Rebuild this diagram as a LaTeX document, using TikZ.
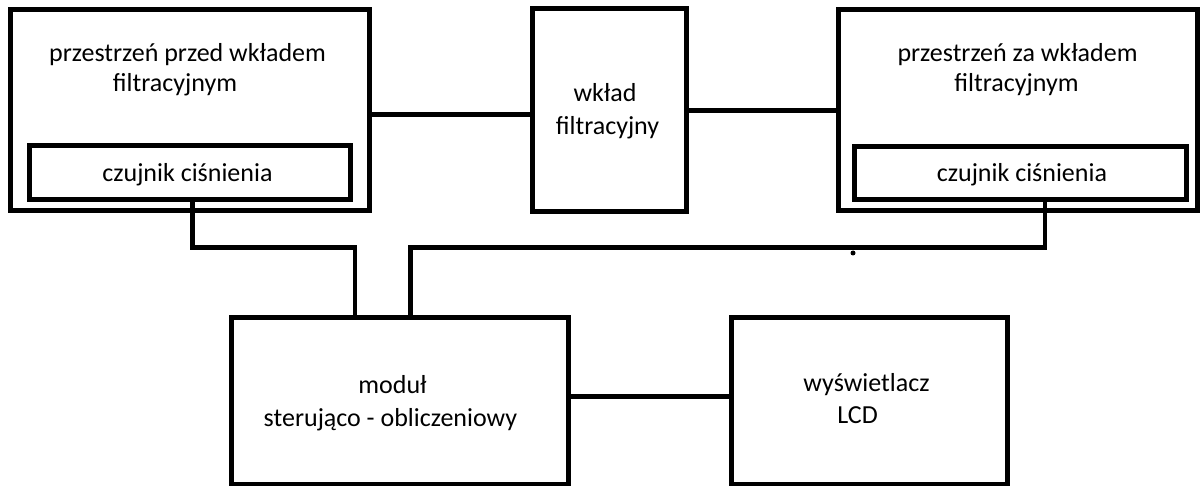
\documentclass[tikz,border=0pt]{standalone}
\usepackage{fontspec}
\setmainfont{Carlito}
\begin{document}
\begin{tikzpicture}[x=1pt,y=-1pt,
  blk/.style={draw=black,line width=5pt,inner sep=0pt,outer sep=0pt,rectangle},
  wire/.style={draw=black,line width=4.8pt},
  lbl/.style={anchor=base,inner sep=0pt,font=\fontsize{26}{31}\selectfont}]
\fill[white] (0,0) rectangle (1201,486);
\useasboundingbox (0,0) rectangle (1201,486);
% boxes
\node[blk,minimum width=359pt,minimum height=201pt] (L) at (190,110) {};
\node[blk,minimum width=321pt,minimum height=53.5pt] (Li) at (190,172.75) {};
\node[blk,minimum width=154pt,minimum height=203pt] (M) at (609.5,110.5) {};
\node[blk,minimum width=359pt,minimum height=201pt] (R) at (1018,110) {};
\node[blk,minimum width=332pt,minimum height=52.5pt] (Ri) at (1020.5,173.25) {};
\node[blk,minimum width=337pt,minimum height=166.5pt] (Mod) at (400,400.75) {};
\node[blk,minimum width=276pt,minimum height=166.5pt] (LCD) at (869.5,400.75) {};
% labels
\node[lbl] (t1) at (187.5,62) {przestrzeń przed wkładem};
\node[lbl] (t2) at (175,92) {filtracyjnym};
\node[lbl] (t3) at (187.5,182) {czujnik ciśnienia};
\node[lbl] (t4) at (605,102) {wkład};
\node[lbl] (t5) at (607.5,135) {filtracyjny};
\node[lbl] (t6) at (1017.5,62) {przestrzeń za wkładem};
\node[lbl] (t7) at (1016.5,92) {filtracyjnym};
\node[lbl] (t8) at (1022,182) {czujnik ciśnienia};
\node[lbl] (t9) at (392.5,393) {moduł};
\node[lbl] (t10) at (390.5,426) {sterująco - obliczeniowy};
\node[lbl] (t11) at (866.5,391) {wyświetlacz};
\node[lbl] (t12) at (857.5,423) {LCD};
% connectors
\coordinate (j1) at (355,247.5);
\coordinate (j2) at (410.5,247.5);
\draw[wire] ([yshift=-4.5pt]L.east) -- ([yshift=-4pt]M.west);
\draw[wire] (M.east) -- (R.west |- M.east);
\draw[wire] ([xshift=2.5pt]Li.south) |- (j1) -- (j1 |- Mod.north);
\draw[wire] ([xshift=24.5pt]Ri.south) |- (j2) -- (j2 |- Mod.north);
\draw[wire] ([yshift=4.25pt]Mod.east) -- ([yshift=4.25pt]LCD.west);
\fill (853,253) circle (2.5);
\end{tikzpicture}
\end{document}
